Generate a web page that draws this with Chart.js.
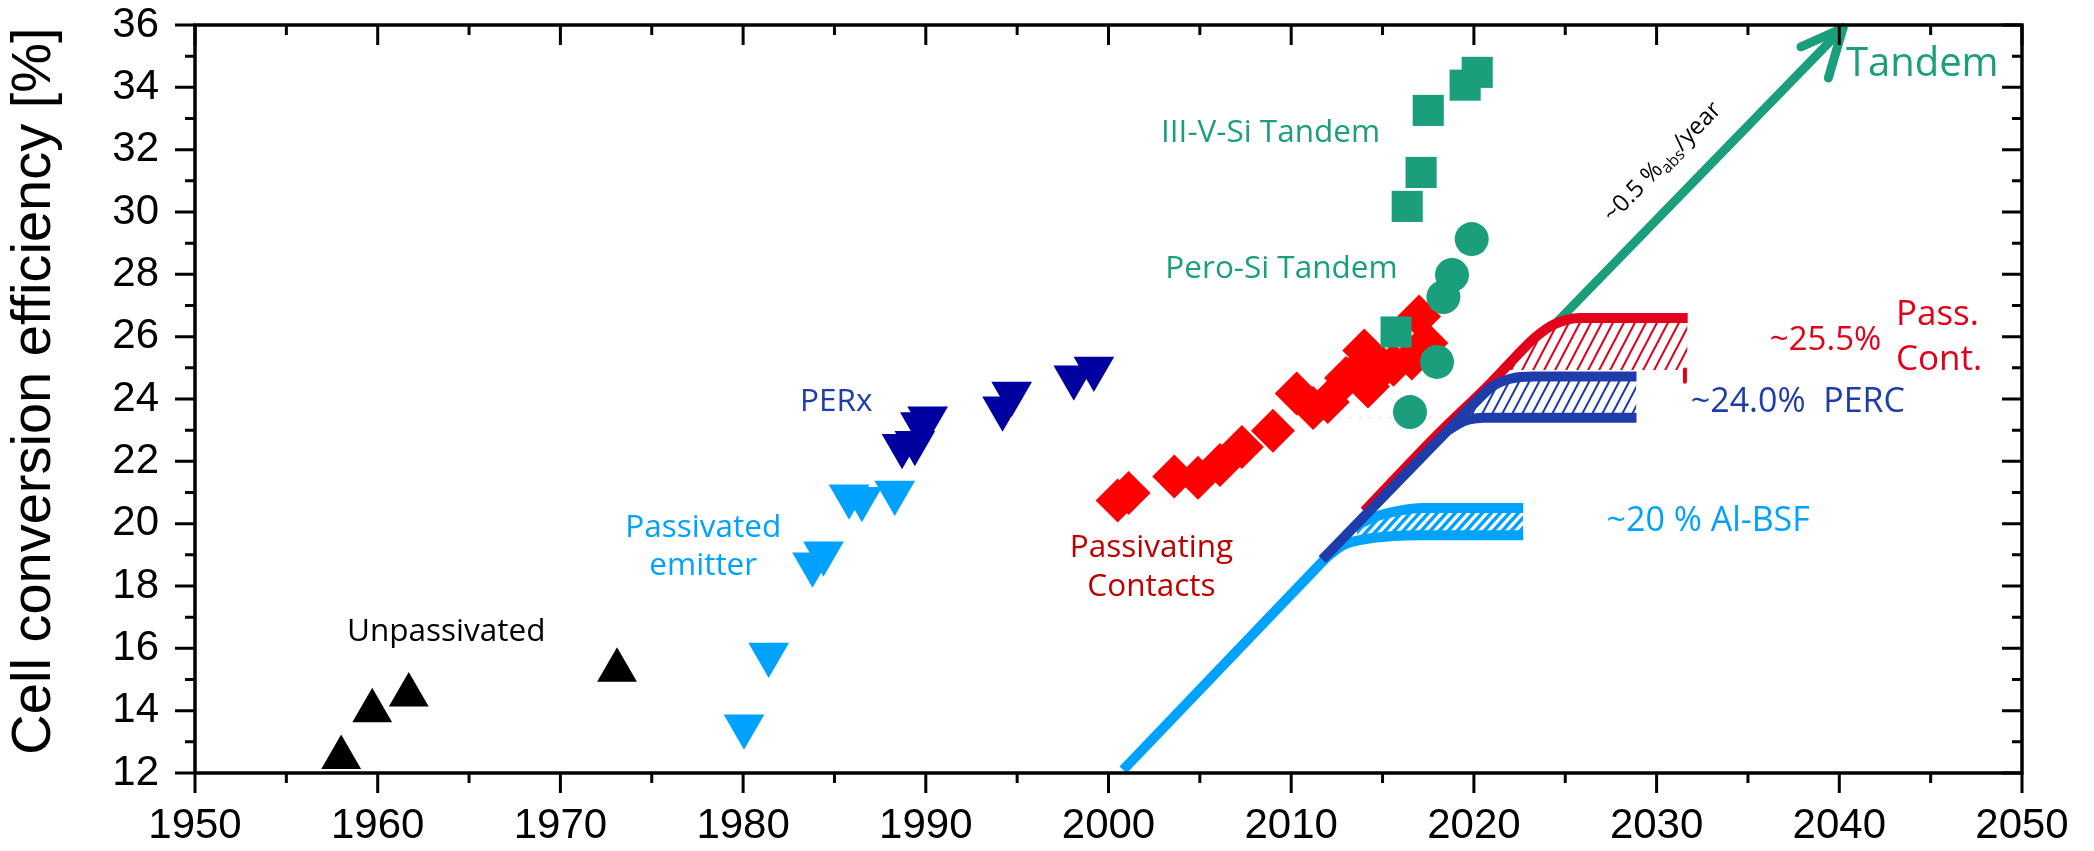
<!DOCTYPE html>
<html>
<head>
<meta charset="utf-8">
<script src="https://cdn.jsdelivr.net/npm/chart.js@4.4.1/dist/chart.umd.min.js"></script>
<style>
html,body{margin:0;padding:0;background:#fff;}
#wrap{width:2094px;height:851px;position:relative;}
canvas{display:block;}
</style>
</head>
<body>
<div id="wrap"><canvas id="c" width="2094" height="851"></canvas></div>
<script>
// ---------------- data ----------------
const xTickYears = [1950, 1960, 1970, 1980, 1990, 2000, 2010, 2020, 2030, 2040, 2050];
const yTickValues = [12, 14, 16, 18, 20, 22, 24, 26, 28, 30, 32, 34, 36];

const unpassivatedYear = [1958.0, 1959.7, 1961.7, 1973.1];
const unpassivatedEff  = [12.5, 14.0, 14.5, 15.3];

const passEmitterYear = [1980.05, 1981.4, 1983.8, 1984.4, 1985.8, 1986.5, 1988.3];
const passEmitterEff  = [13.5, 15.8, 18.7, 19.05, 20.88, 20.8, 21.0];

const perxYear = [1988.7, 1989.4, 1989.7, 1990.1, 1994.2, 1994.7, 1998.1, 1999.2];
const perxEff  = [22.5, 22.6, 23.2, 23.38, 23.7, 24.18, 24.7, 24.98];

const passContactYear = [2000.5, 2001.1, 2003.6, 2004.9, 2006.1, 2007.3, 2009.0, 2010.3, 2011.2, 2012.0, 2013.0, 2013.6, 2014.0, 2014.2, 2015.0, 2015.6, 2016.6, 2017.0, 2017.4];
const passContactEff  = [20.74, 20.98, 21.51, 21.47, 21.88, 22.46, 22.98, 24.18, 23.71, 23.9, 24.67, 24.9, 25.56, 24.4, 25.0, 25.1, 25.3, 26.65, 25.8];

const iiivSiYear = [2015.74, 2016.35, 2017.11, 2017.5, 2019.52, 2020.18];
const iiivSiEff  = [26.15, 30.18, 31.27, 33.26, 34.07, 34.48];

const peroSiYear = [2016.5, 2017.98, 2018.33, 2018.8, 2019.88];
const peroSiEff  = [23.58, 25.19, 27.27, 27.98, 29.13];

// trend lines
const alBsfMainYear = [2000.8, 2011.9];
const alBsfMainEff  = [12.1, 18.9];
const alBsfYear = [2011.8, 2012.8, 2014.0, 2015.5, 2017.0, 2022.7];
const alBsfEff  = [18.85, 19.3, 19.5, 19.6, 19.63, 19.63];
const alBsfTopYear = [2013.6, 2014.5, 2015.8, 2017.2, 2022.7];
const alBsfTopEff  = [19.95, 20.2, 20.4, 20.5, 20.5];
const alBsfFloor = 19.63;

const percYear = [2011.7, 2019.0, 2020.0, 2021.0, 2022.0, 2023.3, 2028.9];
const percEff  = [18.85, 23.25, 23.85, 24.4, 24.65, 24.72, 24.72];
const percLowYear = [2018.6, 2019.5, 2020.6, 2028.9];
const percLowEff  = [23.0, 23.3, 23.4, 23.4];
const percFloor = 23.4;

const pcTrendYear = [2014.0, 2018.0, 2020.9, 2022.2, 2023.3, 2024.4, 2025.8, 2031.7];
const pcTrendEff  = [20.4, 22.85, 24.5, 25.3, 25.95, 26.4, 26.6, 26.6];
const pcFloor = 24.93;
const pcStubYear = [2031.55, 2031.55];
const pcStubEff  = [24.95, 24.55];

const tandemYear = [2024.6, 2040.2];
const tandemEff  = [26.5, 35.9];
const arrowArm1Year = [2040.2, 2037.9];
const arrowArm1Eff  = [35.9, 35.3];
const arrowArm2Year = [2040.2, 2039.4];
const arrowArm2Eff  = [35.9, 34.3];

// ---------------- helpers ----------------
const pts = (xs, ys) => xs.map((x, i) => ({x: x, y: ys[i]}));

function hatch(color, w, h, lw) {
  const c = document.createElement('canvas');
  c.width = w; c.height = h;
  const g = c.getContext('2d');
  g.strokeStyle = color; g.lineWidth = lw;
  g.beginPath();
  for (const dx of [-w, 0, w]) { g.moveTo(dx - w * 0.2, h + h * 0.2); g.lineTo(dx + w * 1.2, -h * 0.2); }
  g.stroke();
  return g.createPattern(c, 'repeat');
}

const C_LB = '#00a2ff', C_DB = '#0000a0', C_PERC = '#1e3caa', C_RED = '#ff0000',
      C_REDL = '#e2001a', C_GREEN = '#1a9e7c', C_DRED = '#c00000';

const redPat = hatch(C_REDL, 11, 21, 2);
const bluePat = hatch(C_PERC, 10, 19, 2);
const lbPat = hatch(C_LB, 9, 10, 3.5);

const FONT_T = "'Open Sans', 'Noto Sans', sans-serif";
const textLabels = [
  {t: 'Unpassivated', x: 1963.75, y: 16.22, c: '#000', s: 31.5, a: 'center'},
  {t: 'Passivated', x: 1977.82, y: 19.58, c: C_LB, s: 31.5, a: 'center'},
  {t: 'emitter', x: 1977.82, y: 18.35, c: C_LB, s: 31.5, a: 'center'},
  {t: 'PERx', x: 1985.1, y: 23.63, c: C_PERC, s: 31.5, a: 'center'},
  {t: 'Passivating', x: 2002.35, y: 18.94, c: C_DRED, s: 31.5, a: 'center'},
  {t: 'Contacts', x: 2002.35, y: 17.68, c: C_DRED, s: 31.5, a: 'center'},
  {t: 'III-V-Si Tandem', x: 2008.87, y: 32.26, c: C_GREEN, s: 31.5, a: 'center'},
  {t: 'Pero-Si Tandem', x: 2009.47, y: 27.87, c: C_GREEN, s: 31.5, a: 'center'},
  {t: 'Tandem', x: 2040.36, y: 34.36, c: C_GREEN, s: 40, a: 'left'},
  {t: 'Pass.', x: 2043.1, y: 26.38, c: C_REDL, s: 35, a: 'left'},
  {t: 'Cont.', x: 2043.1, y: 24.93, c: C_REDL, s: 35, a: 'left'},
  {t: '~25.5%', x: 2036.2, y: 25.57, c: C_REDL, s: 33, a: 'left'},
  {t: '~24.0%  PERC', x: 2031.87, y: 23.59, c: C_PERC, s: 34, a: 'left'},
  {t: '~20 % Al-BSF', x: 2027.26, y: 19.77, c: C_LB, s: 34, a: 'left'}
];
const slopeLabel = {x: 2030.6, y: 31.44};
const yTitle = 'Cell conversion efficiency [%]';

const framePlugin = {
  id: 'frame',
  afterDraw(chart) {
    const {ctx, chartArea: a, scales: {x, y}} = chart;
    ctx.save();
    // axis box
    ctx.strokeStyle = '#000';
    ctx.lineWidth = 3.5;
    ctx.strokeRect(a.left, a.top, a.right - a.left, a.bottom - a.top);
    ctx.lineWidth = 3;
    ctx.beginPath();
    for (let v = x.min; v <= x.max + 1e-6; v += 5) {
      const px = x.getPixelForValue(v);
      const L = (Math.round(v) % 10 === 0) ? 20 : 10;
      ctx.moveTo(px, a.bottom); ctx.lineTo(px, a.bottom + L);
      ctx.moveTo(px, a.top); ctx.lineTo(px, a.top + L);
    }
    for (let v = y.min; v <= y.max + 1e-6; v += 1) {
      const py = y.getPixelForValue(v);
      const L = (Math.round(v) % 2 === 0) ? 20 : 10;
      ctx.moveTo(a.left, py); ctx.lineTo(a.left - L, py);
      ctx.moveTo(a.right, py); ctx.lineTo(a.right - L, py);
    }
    ctx.stroke();

    // y axis title
    ctx.save();
    ctx.translate(35, 391);
    ctx.rotate(-Math.PI / 2);
    ctx.font = "56px 'Liberation Sans', Arial, sans-serif";
    ctx.fillStyle = '#000';
    ctx.textAlign = 'center';
    ctx.textBaseline = 'middle';
    ctx.fillText(yTitle, 0, 0);
    ctx.restore();

    // text annotations
    ctx.textBaseline = 'alphabetic';
    for (const l of textLabels) {
      ctx.font = l.s + 'px ' + FONT_T;
      ctx.fillStyle = l.c;
      ctx.textAlign = l.a;
      ctx.fillText(l.t, x.getPixelForValue(l.x), y.getPixelForValue(l.y));
    }
    // rotated slope label along the tandem arrow
    const x0 = x.getPixelForValue(tandemYear[0]), y0 = y.getPixelForValue(tandemEff[0]);
    const x1 = x.getPixelForValue(tandemYear[1]), y1 = y.getPixelForValue(tandemEff[1]);
    const ang = Math.atan2(y1 - y0, x1 - x0);
    ctx.translate(x.getPixelForValue(slopeLabel.x), y.getPixelForValue(slopeLabel.y));
    ctx.rotate(ang);
    ctx.fillStyle = '#000';
    ctx.textAlign = 'left';
    const big = "24px " + FONT_T, small = "16px " + FONT_T;
    ctx.font = big; const w1 = ctx.measureText('~0.5 %').width;
    ctx.font = small; const w2 = ctx.measureText('abs').width;
    ctx.font = big; const w3 = ctx.measureText('/year').width;
    let sx = -(w1 + w2 + w3) / 2;
    ctx.font = big; ctx.fillText('~0.5 %', sx, 0); sx += w1;
    ctx.font = small; ctx.fillText('abs', sx, 5); sx += w2;
    ctx.font = big; ctx.fillText('/year', sx, 0);
    ctx.restore();
  }
};

const marker = (label, xs, ys, color, style, r, rot, order) => ({
  label, data: pts(xs, ys), backgroundColor: color, borderColor: color, borderWidth: 0,
  pointStyle: style, pointRadius: r, pointHoverRadius: r, pointRotation: rot || 0,
  pointBorderWidth: 0, showLine: false, order
});
const line = (label, xs, ys, color, w, order, extra) => Object.assign({
  label, data: pts(xs, ys), borderColor: color, backgroundColor: color, borderWidth: w,
  pointRadius: 0, pointHoverRadius: 0, showLine: true, cubicInterpolationMode: 'monotone',
  fill: false, order, borderCapStyle: 'butt', borderJoinStyle: 'round', clip: false
}, extra || {});
const straight = {cubicInterpolationMode: 'default', tension: 0};

const datasets = [
  marker('III-V-Si Tandem', iiivSiYear, iiivSiEff, C_GREEN, 'rect', 22, 0, 0),
  marker('Pero-Si Tandem', peroSiYear, peroSiEff, C_GREEN, 'circle', 17, 0, 1),
  marker('Passivating Contacts', passContactYear, passContactEff, C_RED, 'rectRot', 22, 0, 2),
  marker('PERx', perxYear, perxEff, C_DB, 'triangle', 23.5, 180, 3),
  marker('Passivated emitter', passEmitterYear, passEmitterEff, C_LB, 'triangle', 23.5, 180, 3),
  marker('Unpassivated', unpassivatedYear, unpassivatedEff, '#000', 'triangle', 23, 0, 3),
  line('PERC', percYear, percEff, C_PERC, 10, 5, {fill: {target: {value: percFloor}, above: bluePat, below: 'rgba(0,0,0,0)'}}),
  line('PERC low', percLowYear, percLowEff, C_PERC, 10, 5),
  line('Al-BSF main', alBsfMainYear, alBsfMainEff, C_LB, 10, 6, straight),
  line('Al-BSF', alBsfYear, alBsfEff, C_LB, 10, 6),
  line('Al-BSF top', alBsfTopYear, alBsfTopEff, C_LB, 10, 6, {fill: {target: {value: alBsfFloor}, above: lbPat, below: 'rgba(0,0,0,0)'}}),
  line('Pass. Cont. trend', pcTrendYear, pcTrendEff, C_REDL, 10, 7, {fill: {target: {value: pcFloor}, above: redPat, below: 'rgba(0,0,0,0)'}}),
  line('Pass. Cont. stub', pcStubYear, pcStubEff, C_REDL, 4, 7, straight),
  line('Tandem', tandemYear, tandemEff, C_GREEN, 9, 8, Object.assign({borderCapStyle: 'round'}, straight)),
  line('Arrow 1', arrowArm1Year, arrowArm1Eff, C_GREEN, 9, 8, Object.assign({borderCapStyle: 'round'}, straight)),
  line('Arrow 2', arrowArm2Year, arrowArm2Eff, C_GREEN, 9, 8, Object.assign({borderCapStyle: 'round'}, straight))
];

const TICK_FONT = {family: "'Liberation Sans', Arial, sans-serif", size: 42, lineHeight: 1.2};

new Chart(document.getElementById('c'), {
  type: 'scatter',
  data: {datasets},
  plugins: [framePlugin],
  options: {
    responsive: false,
    animation: false,
    devicePixelRatio: 1,
    layout: {padding: {top: 25, right: 72, left: 0, bottom: 0}},
    plugins: {legend: {display: false}, tooltip: {enabled: false}},
    elements: {line: {tension: 0}},
    scales: {
      x: {
        type: 'linear', min: xTickYears[0], max: xTickYears[xTickYears.length - 1],
        grid: {display: false, drawTicks: false},
        border: {display: false},
        ticks: {
          stepSize: 10, autoSkip: false, maxRotation: 0, padding: 28,
          color: '#000', font: TICK_FONT,
          callback: v => xTickYears.includes(v) ? String(v) : ''
        },
        afterFit: s => { s.height = 78; s.paddingLeft = 0; s.paddingRight = 0; }
      },
      y: {
        type: 'linear', min: yTickValues[0], max: yTickValues[yTickValues.length - 1],
        grid: {display: false, drawTicks: false},
        border: {display: false},
        ticks: {
          stepSize: 2, autoSkip: false, padding: 36, color: '#000', font: TICK_FONT,
          callback: v => yTickValues.includes(v) ? String(v) : ''
        },
        title: {display: false},
        afterFit: s => { s.width = 195; s.paddingTop = 0; s.paddingBottom = 0; }
      }
    }
  }
});
</script>
</body>
</html>
